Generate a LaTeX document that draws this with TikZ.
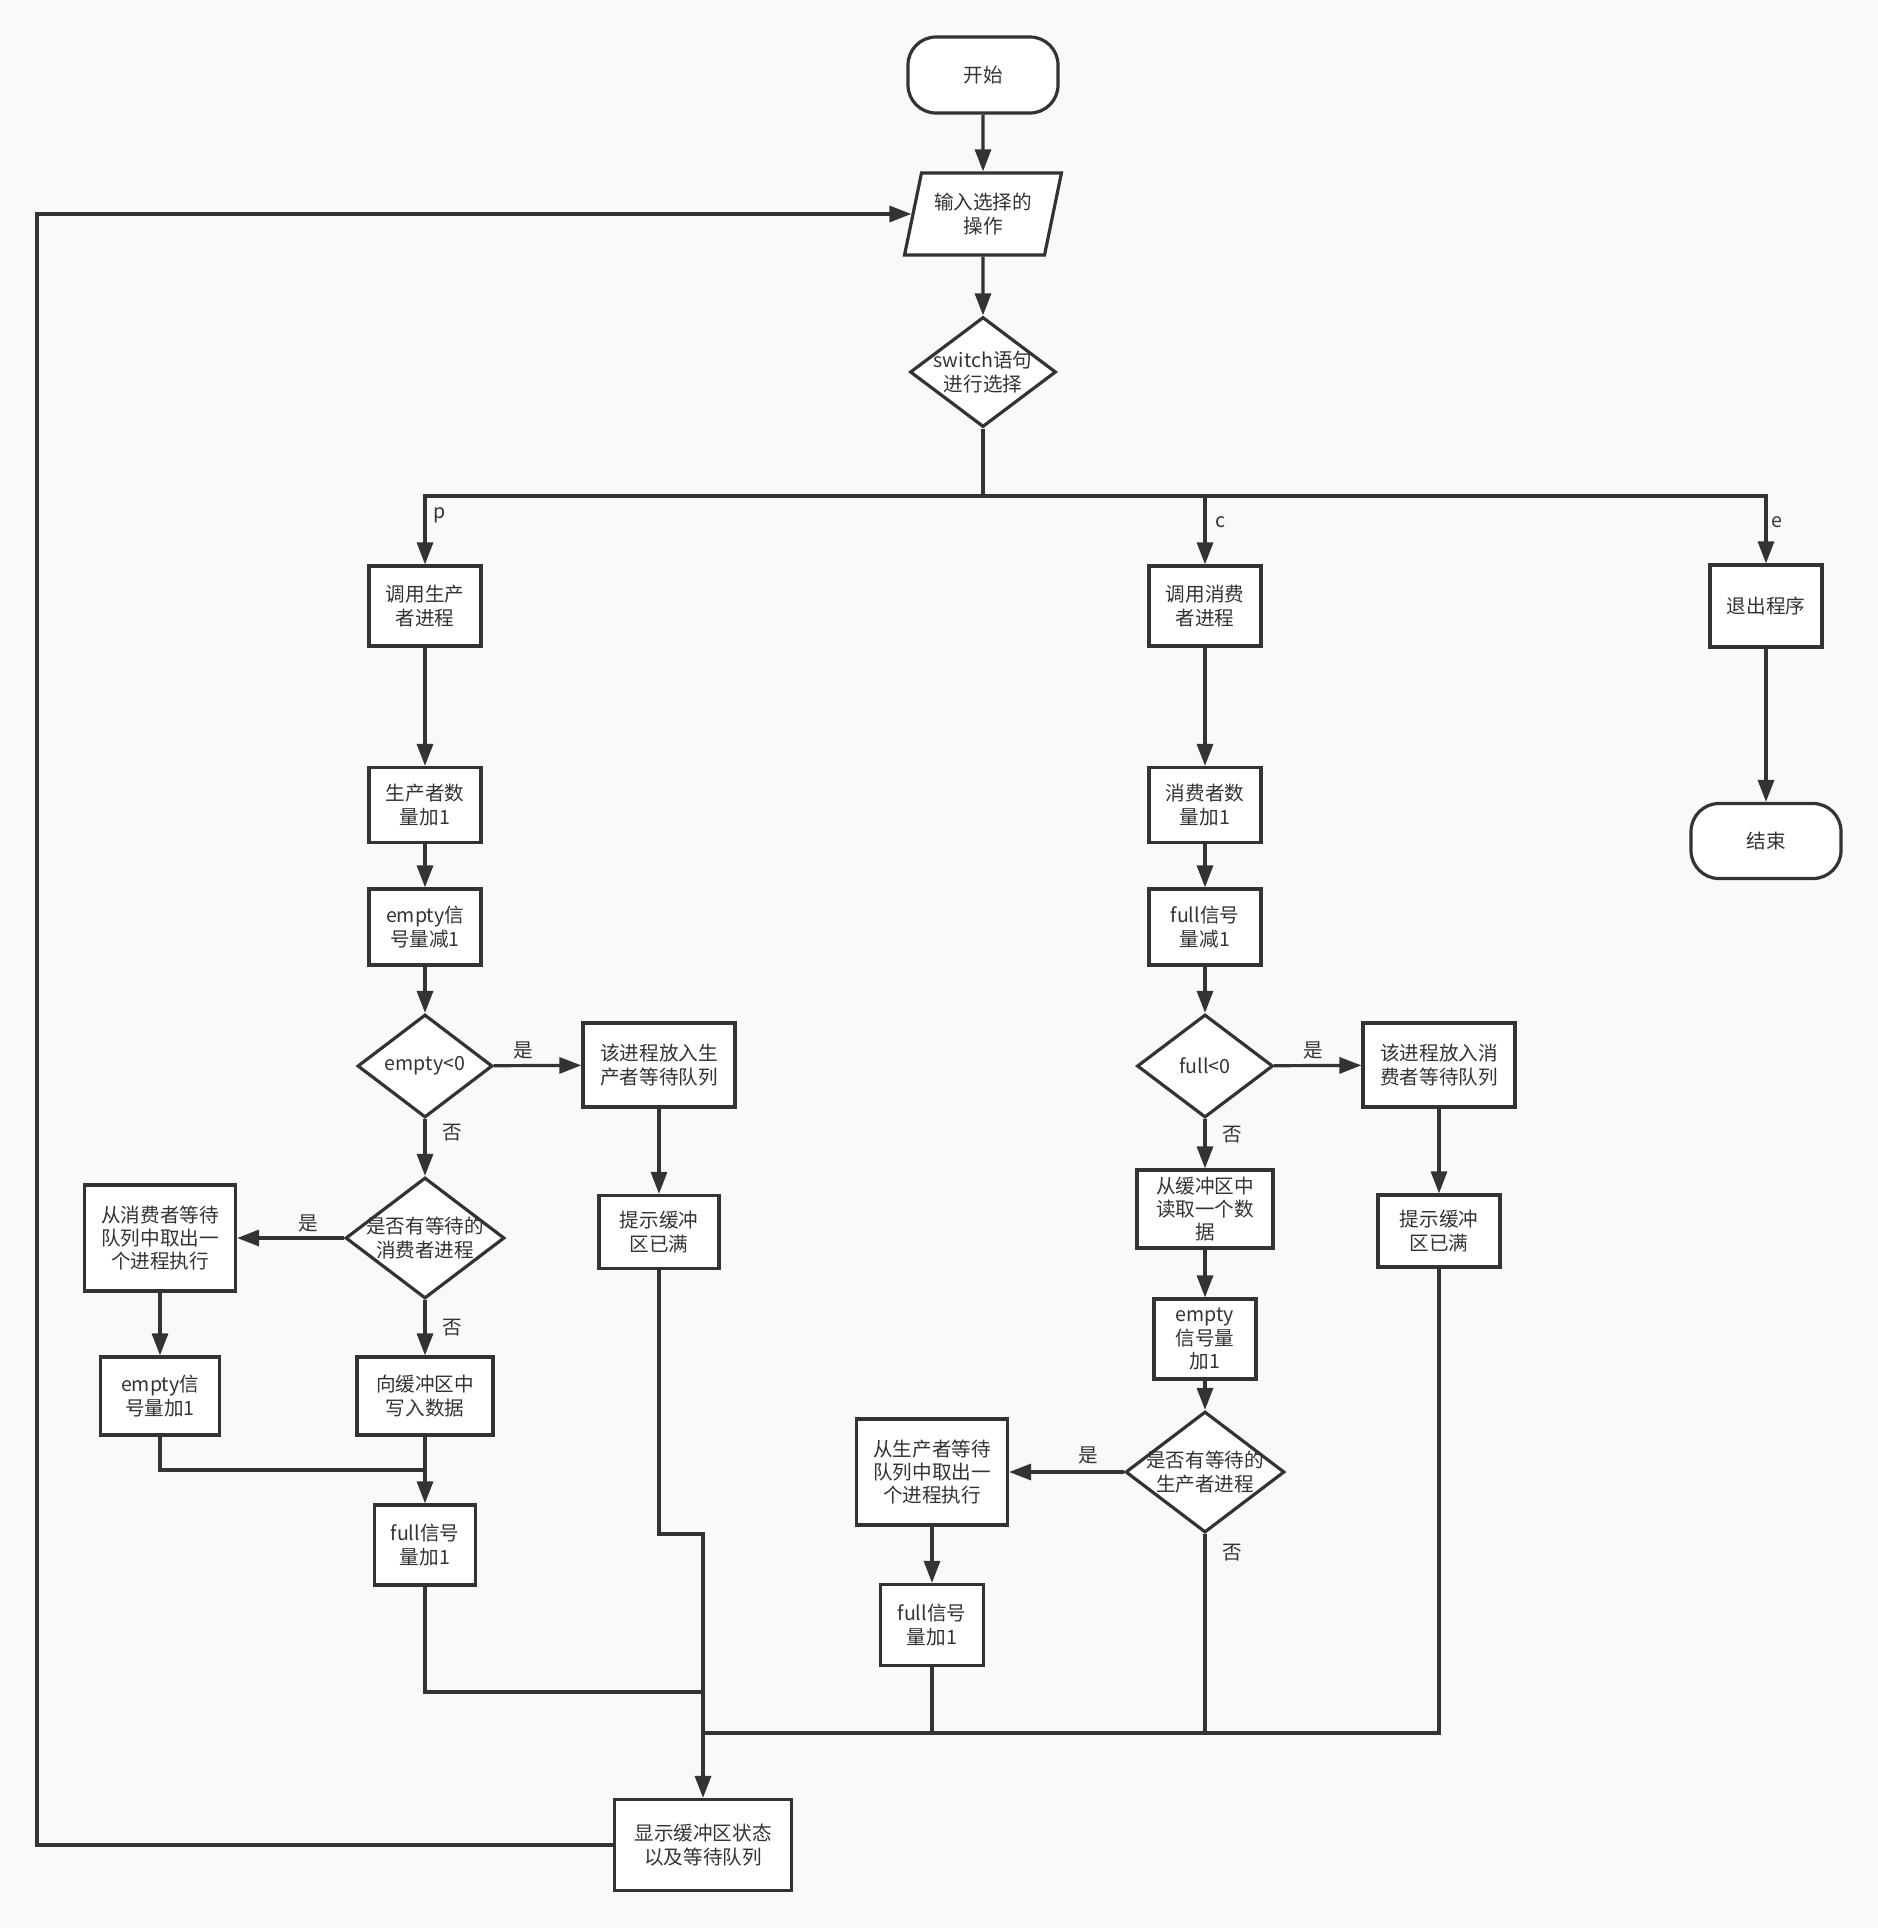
\documentclass[tikz,border=0pt]{standalone}
\usepackage{fontspec}
\usetikzlibrary{shapes.geometric,arrows.meta}
\newfontfamily\cjk{Noto Sans CJK SC}
\definecolor{ink}{HTML}{333333}
\definecolor{paper}{HTML}{F9F9F9}

\begin{document}
\begin{tikzpicture}[x=0.5pt,y=-0.5pt,color=ink,font=\cjk\fontsize{9.8pt}{11.7pt}\selectfont,
  proc/.style={draw,line width=1.6pt,fill=white,align=center,inner sep=0pt},
  term/.style={proc,rounded corners=14pt},
  io/.style={proc,trapezium,trapezium left angle=72,trapezium right angle=108,trapezium stretches=true},
  decide/.style={proc,diamond},
  link/.style={line width=1.6pt},
  arr/.style={link,-{Triangle[length=11pt,width=8pt]}}]
  \fill[paper] (0,0) rectangle (1878,1928);
  \useasboundingbox (0,0) rectangle (1878,1928);

  % main line
  \node[term,minimum width=75pt,minimum height=38pt] (start) at (983,75) {开始};
  \node[io,minimum width=78.5pt,minimum height=41pt] (inp) at (983,214) {输入选择的\\操作};
  \node[decide,minimum width=73pt,minimum height=55pt,label={[align=center]center:switch语句\\进行选择}] (sw) at (983,372) {};
  \coordinate (fork) at (983,496);

  % p: producer
  \node[proc,minimum width=56pt,minimum height=40pt] (callP) at (425,606) {调用生产\\者进程};
  \node[proc,minimum width=56pt,minimum height=37.5pt] (cntP) at (425,805) {生产者数\\量加1};
  \node[proc,minimum width=56pt,minimum height=38pt] (decP) at (425,927) {empty信\\号量减1};
  \node[decide,minimum width=67.5pt,minimum height=51.5pt,label={center:empty<0}] (chkP) at (425,1066) {};
  \node[proc,minimum width=76pt,minimum height=42pt] (queueP) at (659,1065) {该进程放入生\\产者等待队列};
  \node[proc,minimum width=60pt,minimum height=36.5pt] (warnP) at (659,1232) {提示缓冲\\区已满};
  \node[decide,minimum width=79.5pt,minimum height=60.5pt,label={[align=center]center:是否有等待的\\消费者进程}] (waitP) at (425,1238) {};
  \node[proc,minimum width=75.5pt,minimum height=53pt] (wakeP) at (160,1238) {从消费者等待\\队列中取出一\\个进程执行};
  \node[proc,minimum width=59.5pt,minimum height=39pt] (incE) at (160,1396) {empty信\\号量加1};
  \node[proc,minimum width=68pt,minimum height=39pt] (write) at (425,1396) {向缓冲区中\\写入数据};
  \node[proc,minimum width=50.5pt,minimum height=40pt] (fullP) at (425,1545) {full信号\\量加1};

  % c: consumer
  \node[proc,minimum width=56pt,minimum height=40pt] (callC) at (1205,606) {调用消费\\者进程};
  \node[proc,minimum width=56pt,minimum height=37.5pt] (cntC) at (1205,805) {消费者数\\量加1};
  \node[proc,minimum width=56pt,minimum height=38pt] (decC) at (1205,927) {full信号\\量减1};
  \node[decide,minimum width=68pt,minimum height=51.5pt,label={center:full<0}] (chkC) at (1205,1066) {};
  \node[proc,minimum width=76pt,minimum height=42pt] (queueC) at (1439,1065) {该进程放入消\\费者等待队列};
  \node[proc,minimum width=61pt,minimum height=36pt] (warnC) at (1439,1231) {提示缓冲\\区已满};
  \node[proc,minimum width=68pt,minimum height=39pt] (read) at (1205,1209) {从缓冲区中\\读取一个数\\据};
  \node[proc,minimum width=51pt,minimum height=40pt] (incEC) at (1205,1339) {empty\\信号量\\加1};
  \node[decide,minimum width=79.5pt,minimum height=60.5pt,label={[align=center]center:是否有等待的\\生产者进程}] (waitC) at (1205,1472) {};
  \node[proc,minimum width=75.5pt,minimum height=53pt] (wakeC) at (932,1472) {从生产者等待\\队列中取出一\\个进程执行};
  \node[proc,minimum width=51.5pt,minimum height=40.5pt] (fullC) at (932,1625) {full信号\\量加1};

  % e: exit
  \node[proc,minimum width=56pt,minimum height=41pt] (exit) at (1766,606) {退出程序};
  \node[term,minimum width=75pt,minimum height=37.5pt] (end) at (1766,841) {结束};

  \node[proc,minimum width=88.5pt,minimum height=45.5pt] (disp) at (703,1845) {显示缓冲区状态\\以及等待队列};

  % merge points
  \coordinate (joinL) at (425,1470);
  \coordinate (mergeP) at (703,1534);
  \coordinate (mergeL) at (703,1692);
  \coordinate (mergeR) at (703,1733);
  \coordinate (back) at (37,1845);

  \draw[arr] (start) -- (inp);
  \draw[arr] (inp) -- (sw);
  \draw[link] (sw) -- (fork);
  \draw[arr] (fork) -| (callP);
  \draw[arr] (fork) -| (callC);
  \draw[arr] (fork) -| (exit);
  \draw[arr] (exit) -- (end);

  \draw[arr] (callP) -- (cntP);
  \draw[arr] (cntP) -- (decP);
  \draw[arr] (decP) -- (chkP);
  \draw[arr] (chkP) -- (queueP);
  \draw[arr] (chkP) -- (waitP);
  \draw[arr] (queueP) -- (warnP);
  \draw[arr] (waitP) -- (wakeP);
  \draw[arr] (waitP) -- (write);
  \draw[arr] (wakeP) -- (incE);
  \draw[link] (incE) |- (joinL);
  \draw[arr] (write) -- (fullP);
  \draw[link] (fullP) |- (mergeL);
  \draw[arr] (warnP) |- (mergeP) -- (disp);

  \draw[arr] (callC) -- (cntC);
  \draw[arr] (cntC) -- (decC);
  \draw[arr] (decC) -- (chkC);
  \draw[arr] (chkC) -- (queueC);
  \draw[arr] (chkC) -- (read);
  \draw[arr] (queueC) -- (warnC);
  \draw[arr] (read) -- (incEC);
  \draw[arr] (incEC) -- (waitC);
  \draw[arr] (waitC) -- (wakeC);
  \draw[arr] (wakeC) -- (fullC);
  \draw[link] (fullC) -- (fullC |- mergeR);
  \draw[link] (waitC) -- (waitC |- mergeR);
  \draw[link] (warnC) |- (mergeR);

  \draw[arr] (disp) -- (back) |- (inp);

  % branch labels
  \node (pLbl) at (440,515) {p};
  \node (cLbl) at (1220,522) {c};
  \node (eLbl) at (1777,522) {e};
  \foreach \x/\y/\t [count=\k] in {523/1050/是,452/1133/否,308/1223/是,452/1328/否,
      1313/1050/是,1232/1135/否,1088/1455/是,1232/1553/否}
    \node (ans\k) at (\x,\y) {\t};
\end{tikzpicture}
\end{document}
